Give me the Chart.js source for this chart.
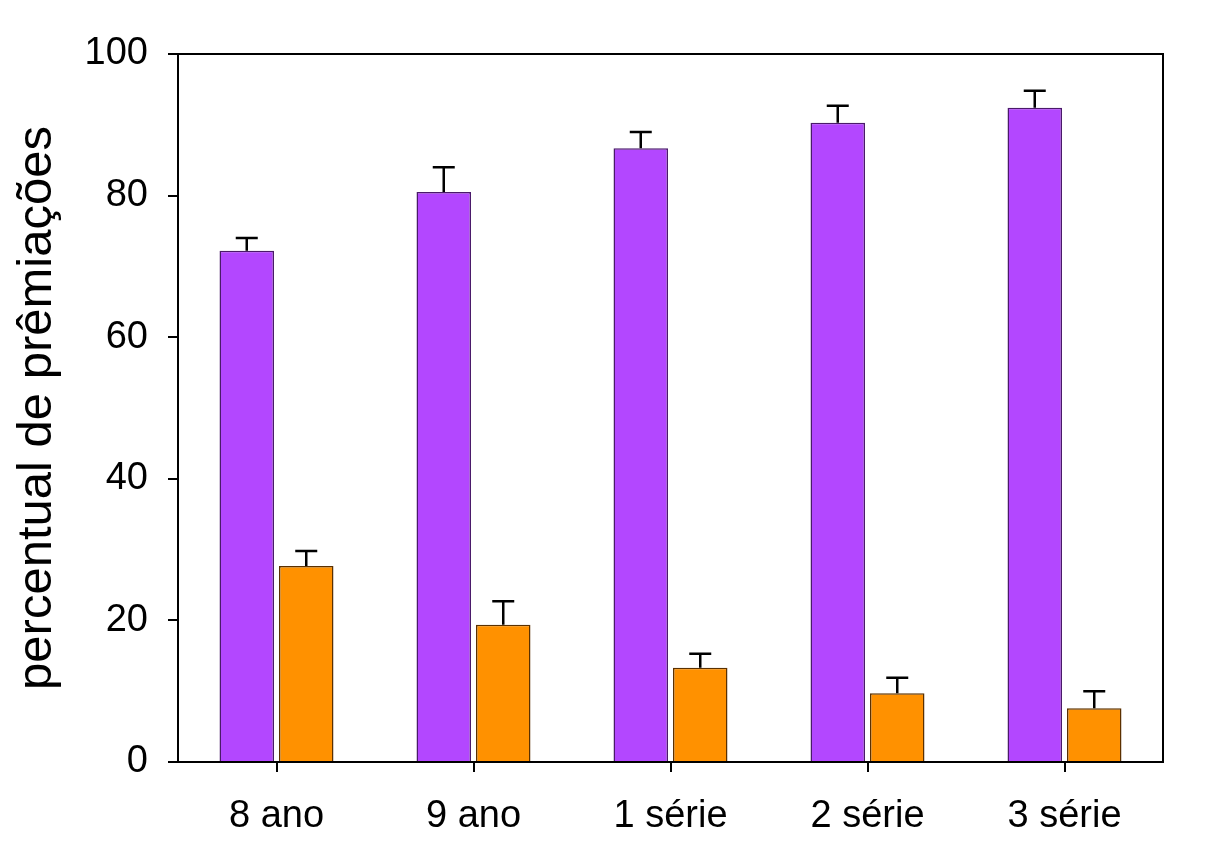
<!DOCTYPE html>
<html>
<head>
<meta charset="utf-8">
<script src="https://cdn.jsdelivr.net/npm/chart.js@4"></script>
<style>
  html, body { margin: 0; padding: 0; background: #fff; }
  #wrap { width: 1217px; height: 864px; }
</style>
</head>
<body>
<div id="wrap"><canvas id="chart"></canvas></div>
<script>
const categories = ['8 ano', '9 ano', '1 série', '2 série', '3 série'];
const purpleValues = [72.2, 80.5, 86.7, 90.3, 92.4];
const purpleErrors = [1.8, 3.5, 2.3, 2.4, 2.4];
const orangeValues = [27.7, 19.4, 13.3, 9.7, 7.6];
const orangeErrors = [2.1, 3.3, 2.0, 2.2, 2.4];
const yTicks = [0, 20, 40, 60, 80, 100];

// --- error bars (upper only, with cap) ---
const errorBars = {
  id: 'errorBars',
  afterDatasetsDraw(chart) {
    const ctx = chart.ctx;
    const y = chart.scales.y;
    chart.data.datasets.forEach((ds, di) => {
      const meta = chart.getDatasetMeta(di);
      meta.data.forEach((bar, i) => {
        const top = y.getPixelForValue(ds.data[i] + ds.errors[i]);
        ctx.save();
        ctx.strokeStyle = '#000';
        ctx.lineWidth = 2.5;
        ctx.beginPath();
        ctx.moveTo(bar.x, bar.y);
        ctx.lineTo(bar.x, top);
        ctx.moveTo(bar.x - 11, top);
        ctx.lineTo(bar.x + 11, top);
        ctx.stroke();
        ctx.restore();
      });
    });
  }
};

// --- frame round the plot ---
const frame = {
  id: 'frame',
  afterDraw(chart) {
    const a = chart.chartArea;
    const ctx = chart.ctx;
    ctx.save();
    ctx.strokeStyle = '#000';
    ctx.lineWidth = 2;
    ctx.strokeRect(a.left, a.top, a.right - a.left, a.bottom - a.top);
    ctx.beginPath();
    ctx.moveTo(a.left - 8, a.bottom);
    ctx.lineTo(a.left, a.bottom);
    ctx.stroke();
    ctx.restore();
  }
};

const font = '"Liberation Sans", Arial, sans-serif';

new Chart(document.getElementById('chart'), {
  type: 'bar',
  data: {
    labels: categories,
    datasets: [
      {
        data: purpleValues,
        errors: purpleErrors,
        backgroundColor: '#B347FF',
        borderColor: '#4A1A6A',
        borderWidth: 1.5,
        categoryPercentage: 0.604,
        barPercentage: 0.916
      },
      {
        data: orangeValues,
        errors: orangeErrors,
        backgroundColor: '#FF9100',
        borderColor: '#5A3000',
        borderWidth: 1.5,
        categoryPercentage: 0.604,
        barPercentage: 0.916
      }
    ]
  },
  options: {
    responsive: true,
    maintainAspectRatio: false,
    animation: false,
    layout: { padding: { top: 54, right: 54, left: 0, bottom: 0 } },
    plugins: {
      legend: { display: false },
      tooltip: { enabled: false }
    },
    scales: {
      x: {
        grid: { offset: false, drawOnChartArea: false, tickLength: 10, color: '#000', lineWidth: 2 },
        border: { display: false },
        ticks: {
          color: '#000',
          padding: 22,
          font: { family: font, size: 38 }
        },
        afterFit(scale) { scale.height = 102; }
      },
      y: {
        min: 0,
        max: 100,
        afterBuildTicks(scale) { scale.ticks = yTicks.map(v => ({ value: v })); },
        grid: { drawOnChartArea: false, tickLength: 10, color: '#000', lineWidth: 2 },
        border: { display: false },
        ticks: {
          color: '#000',
          padding: 20,
          font: { family: font, size: 38 }
        },
        title: {
          display: true,
          text: 'percentual de prêmiações',
          color: '#000',
          padding: { top: 8, bottom: 6 },
          font: { family: font, size: 49 }
        },
        afterFit(scale) { scale.width = 178; }
      }
    }
  },
  plugins: [errorBars, frame]
});
</script>
</body>
</html>
